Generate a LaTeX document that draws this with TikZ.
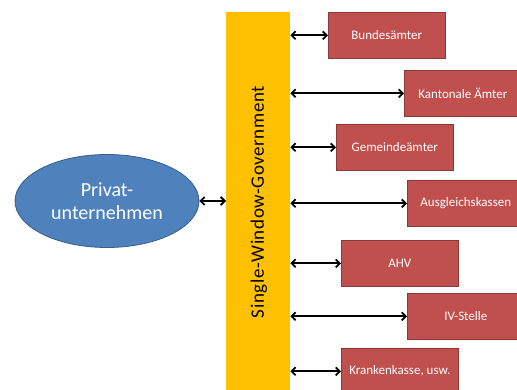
\documentclass[tikz,border=0pt]{standalone}
\usepackage{fontspec}
\setmainfont{Carlito}
\usetikzlibrary{shapes.geometric,arrows.meta}
\definecolor{boxred}{HTML}{C0504D}
\definecolor{boxredline}{HTML}{8C3836}
\definecolor{ellblue}{HTML}{4F81BD}
\definecolor{ellline}{HTML}{385D8A}
\definecolor{baryellow}{HTML}{FFC000}
\begin{document}
\begin{tikzpicture}[x=1pt,y=-1pt,
  office/.style={draw=boxredline,line width=0.6pt,fill=boxred,text=white,
    minimum width=117pt,minimum height=46pt,anchor=north west,inner sep=0pt,
    font=\fontsize{13}{15}\selectfont},
  link/.style={line width=1.8pt,{Straight Barb[length=4pt,width=8pt]}-{Straight Barb[length=4pt,width=8pt]}}]
\useasboundingbox (0,0) rectangle (517,390);
\clip (0,0) rectangle (517,390);
\node[fill=baryellow,minimum width=64pt,minimum height=390pt,anchor=north west,inner sep=0pt] (bar) at (226,12) {};
\node[rotate=90,font=\addfontfeatures{LetterSpace=3}\fontsize{19}{22}\selectfont] (bartxt) at (259,202) {Single-Window-Government};
\node[ellipse,draw=ellline,line width=0.8pt,fill=ellblue,text=white,minimum width=184pt,minimum height=93pt,inner sep=0pt,align=center,font=\fontsize{20}{23}\selectfont] (priv) at (107,201) {Privat-\\unternehmen};
\node[office] (b1) at (328,12) {Bundesämter};
\node[office] (b2) at (404,70) {Kantonale Ämter};
\node[office] (b3) at (336,124) {Gemeindeämter};
\node[office] (b4) at (407,180) {Ausgleichskassen};
\node[office] (b5) at (341,240) {AHV};
\node[office] (b6) at (407,293) {IV-Stelle};
\node[office] (b7) at (341,348) {Krankenkasse, usw.};
\draw[link] (priv.east) -- (priv.east -| bar.west);
\foreach \b in {b1,b2,b3,b4,b5,b6,b7}{
  \draw[link] (bar.east |- \b.west) -- (\b.west);
}
\end{tikzpicture}
\end{document}
